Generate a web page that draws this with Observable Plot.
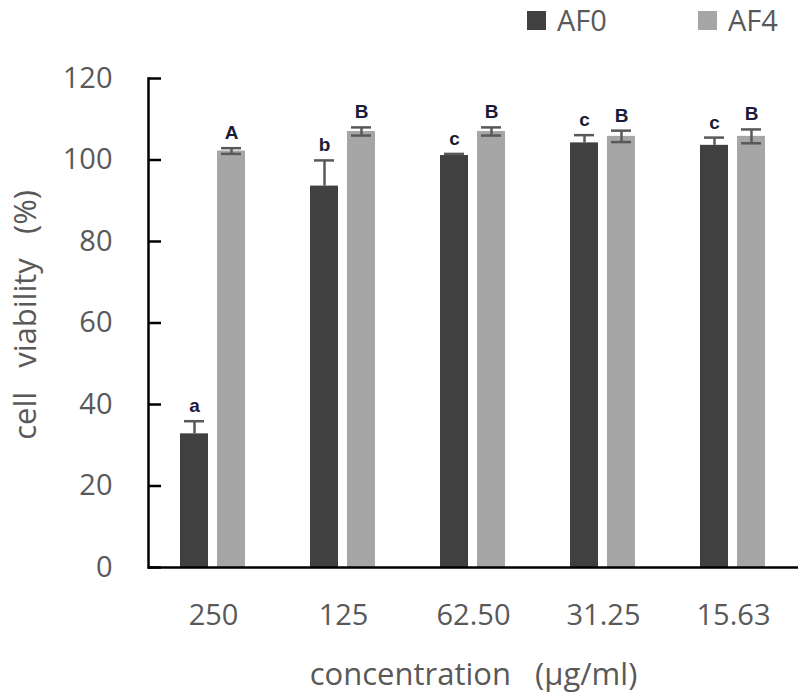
<!DOCTYPE html>
<html>
<head>
<meta charset="utf-8">
<script src="https://cdn.jsdelivr.net/npm/d3@7"></script>
<script src="https://cdn.jsdelivr.net/npm/@observablehq/plot@0.6"></script>
<style>
  body { margin: 0; background: #fff; }
  #wrap { position: relative; width: 800px; height: 700px; }
  #legend { position: absolute; top: 0; left: 0; width: 800px; height: 44px; }
  .item { position: absolute; top: 0; height: 40px; display: flex; align-items: center;
          font-family: "Open Sans", sans-serif; font-size: 29px; color: #595959; line-height: 40px; }
  .sw { width: 19px; height: 19px; margin-right: 11px; }
</style>
</head>
<body>
<div id="wrap"><div id="legend"></div></div>
<script>
const concentrations = ["250", "125", "62.50", "31.25", "15.63"];
const series = ["AF0", "AF4"];
const seriesColors = ["#404040", "#a6a6a6"];
const af0Mean = [32.8, 93.6, 101.1, 104.2, 103.6];
const af0Sd = [3.1, 6.3, 0.4, 1.9, 1.9];
const af0Letters = ["a", "b", "c", "c", "c"];
const af4Mean = [102.2, 107.0, 107.0, 105.8, 105.8];
const af4Sd = [0.7, 1.0, 1.0, 1.4, 1.7];
const af4Letters = ["A", "B", "B", "B", "B"];
// error bars drawn in both directions only for these series (plus-only otherwise)
const bothWayErrorSeries = ["AF4"];
const yTicks = [0, 20, 40, 60, 80, 100, 120];
const yLabel = "\u00a0\u00a0cell\u00a0\u00a0\u00a0viability\u00a0\u00a0\u00a0(%)";
const xLabel = "concentration\u00a0\u00a0\u00a0(\u03bcg/ml)";

const means = [af0Mean, af4Mean];
const sds = [af0Sd, af4Sd];
const letters = [af0Letters, af4Letters];
const data = series.flatMap((s, i) => concentrations.map((c, j) => ({
  conc: c, series: s, mean: means[i][j], sd: sds[i][j], letter: letters[i][j],
  both: bothWayErrorSeries.includes(s)
})));

const FONT = '"Open Sans", sans-serif';
const errColor = "#595959";

const chart = Plot.plot({
  width: 800,
  height: 700,
  marginLeft: 148,
  marginRight: 2,
  marginTop: 78,
  marginBottom: 133,
  style: { fontFamily: FONT, background: "white" },
  fx: { domain: concentrations, padding: 0 },
  x: { domain: series, paddingInner: 0.24, paddingOuter: 0.87, axis: null },
  y: { domain: [0, 120] },
  color: { domain: series, range: seriesColors },
  marks: [
    Plot.barY(data, { fx: "conc", x: "series", y: "mean", fill: "series" }),
    Plot.ruleX(data, { fx: "conc", x: "series", y1: d => d.both ? d.mean - d.sd : d.mean, y2: d => d.mean + d.sd, stroke: errColor, strokeWidth: 2.5 }),
    Plot.tickY(data, { fx: "conc", x: "series", y: d => d.mean + d.sd, insetLeft: 4, insetRight: 4, stroke: errColor, strokeWidth: 2.5 }),
    Plot.tickY(data.filter(d => d.both), { fx: "conc", x: "series", y: d => d.mean - d.sd, insetLeft: 4, insetRight: 4, stroke: errColor, strokeWidth: 2.5 }),
    Plot.text(data, { fx: "conc", x: "series", y: d => d.mean + d.sd, text: "letter", lineAnchor: "bottom", dy: -9,
      fontWeight: "bold", fontSize: 19, fill: "#1c1c3a", fontFamily: '"Liberation Sans", sans-serif' }),
    Plot.ruleY([0], { stroke: "black", strokeWidth: 2.5 }),
    Plot.frame({ anchor: "left", facetAnchor: "left", stroke: "black", strokeWidth: 2.5 }),
    Plot.tickY(yTicks, { y: d => d, facetAnchor: "left", insetRight: 117, stroke: "black", strokeWidth: 2.5 }),
    Plot.axisY({ ticks: yTicks, tickSize: 0, tickPadding: 36, fontSize: 29, color: "#595959",
      label: yLabel, labelArrow: "none", labelAnchor: "center", labelOffset: 135 }),
    Plot.axisFx({ anchor: "bottom", tickSize: 0, tickPadding: 37, fontSize: 29, color: "#595959",
      label: xLabel, labelArrow: "none", labelAnchor: "center", labelOffset: 117 })
  ]
});
document.getElementById("wrap").prepend(chart);

// axis titles slightly larger than tick labels, as in the reference
chart.querySelectorAll("[aria-label='y-axis label'] text, [aria-label='fx-axis label'] text").forEach(t => {
  t.style.fontSize = "31px";
});

const legend = document.getElementById("legend");
const legendLeft = [527, 698];
series.forEach((s, i) => {
  const item = document.createElement("div");
  item.className = "item";
  item.style.left = legendLeft[i] + "px";
  const sw = document.createElement("div");
  sw.className = "sw";
  sw.style.background = seriesColors[i];
  const t = document.createElement("span");
  t.textContent = s;
  item.append(sw, t);
  legend.append(item);
});
</script>
</body>
</html>
